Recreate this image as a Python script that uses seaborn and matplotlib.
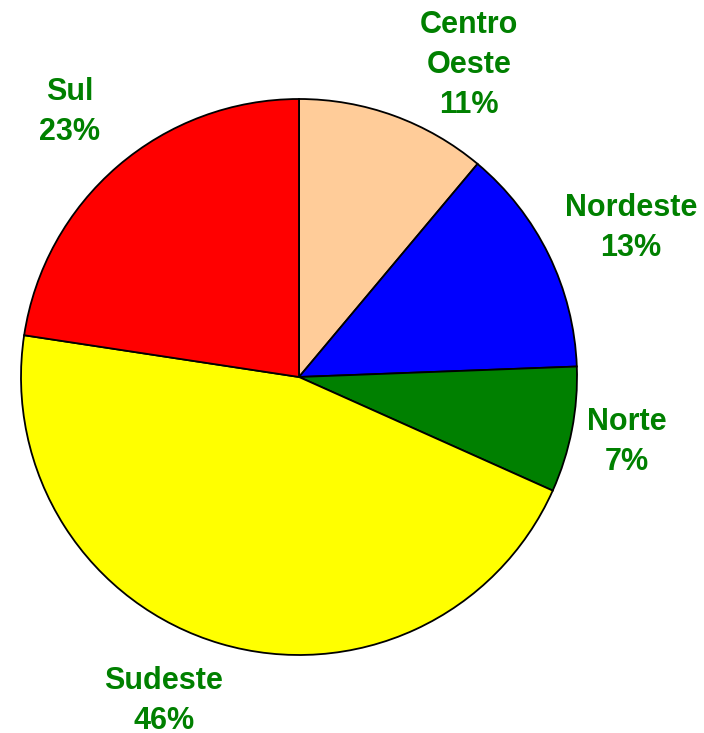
import numpy as np
import matplotlib
matplotlib.use("Agg")
import matplotlib.pyplot as plt
import seaborn as sns

sns.set_theme(style="white")
plt.rcParams['font.family'] = ['Liberation Sans', 'DejaVu Sans']

# data, clockwise from the top
regions = ["Centro\nOeste", "Nordeste", "Norte", "Sudeste", "Sul"]
shares = [11.1, 13.3, 7.3, 45.7, 22.6]
colors = ["#FFCC99", "#0000FF", "#008000", "#FFFF00", "#FF0000"]

# label centres (pie radius = 1)
label_pos = [(0.612, 1.122), (1.194, 0.536), (1.180, -0.234),
             (-0.486, -1.165), (-0.824, 0.953)]

fig = plt.figure(figsize=(7.04, 7.33), dpi=100)
ax = fig.add_axes([0, 0, 1, 1])

labels = [f"{r}\n{s:.0f}%" for r, s in zip(regions, shares)]
wedges, texts = ax.pie(shares, labels=labels, colors=colors, startangle=90,
                       counterclock=False, labeldistance=1.27,
                       wedgeprops=dict(edgecolor="black", linewidth=1.3))

for t, p in zip(texts, label_pos):
    t.set_position(p)
    t.set_ha("center")
    t.set_va("center")
    t.set_color("#008000")
    t.set_fontweight("bold")
    t.set_fontsize(22)
    t.set_linespacing(1.45)

# 278 px per unit, centre at (299, 377) px from top-left
ax.set_xlim(-299 / 278, (704 - 299) / 278)
ax.set_ylim(-(733 - 377) / 278, 377 / 278)
ax.set_aspect("auto")
ax.axis("off")

fig.savefig("out.png", dpi=100)
